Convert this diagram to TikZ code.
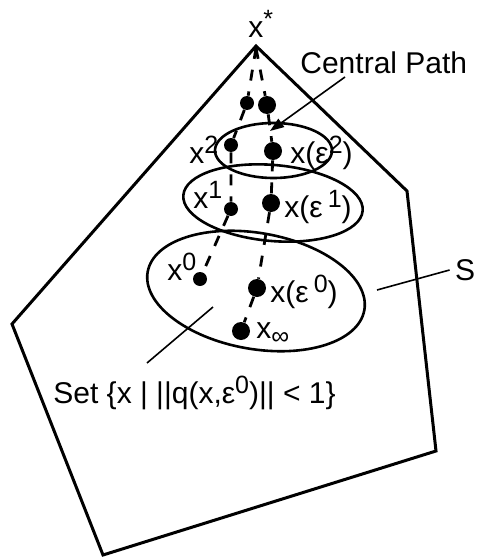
\documentclass[tikz,border=0pt]{standalone}
\usepackage{fontspec}
\setmainfont{Liberation Sans}
\usetikzlibrary{arrows.meta}
\newcommand\upidx[1]{\raisebox{0.33em}{\fontsize{12.5}{14}\selectfont #1}}
\newcommand\dnidx[1]{\raisebox{-0.22em}{\fontsize{12.5}{14}\selectfont #1}}
\begin{document}
\begin{tikzpicture}[x=0.5pt,y=-0.5pt,font=\fontsize{15}{18}\selectfont,
  itdot/.style={circle,fill=black,inner sep=0pt,minimum size=7pt},
  cpdot/.style={circle,fill=black,inner sep=0pt,minimum size=9pt},
  pathline/.style={dash pattern=on 5.5pt off 5.5pt,line width=1.4pt},
  ring/.style={line width=1.3pt},
  pointer/.style={line width=0.8pt},
  lbl/.style={anchor=base west,inner sep=0pt}]
\useasboundingbox (0,0) rectangle (477,557);
% feasible set S
\draw[line width=1.5pt] (256,46) -- (407,191) -- (436,451) -- (103,555) -- (12,324) -- cycle;
\coordinate (xs) at (256,48);
% level sets
\draw[ring] (273.5,150.5) ellipse [x radius=58.5, y radius=27.5];
\draw[ring, rotate around={-5:(273,203)}] (273,203) ellipse [x radius=90, y radius=38];
\draw[ring, rotate around={-10:(256,291)}] (256,291) ellipse [x radius=110, y radius=58];
% iterates and central path points
\node[itdot] (it3) at (247,103) {};
\node[itdot] (it2) at (231,145) {};
\node[itdot] (it1) at (231,209) {};
\node[itdot] (it0) at (200,279) {};
\node[cpdot] (cp3) at (267,105) {};
\node[cpdot] (cp2) at (273,151) {};
\node[cpdot] (cp1) at (271,203) {};
\node[cpdot] (cp0) at (257,288) {};
\node[cpdot] (cpinf) at (241,331) {};
\draw[pathline] (xs) -- (it3) -- (it2) -- (it1) -- (it0);
\draw[pathline] (xs) -- (cp3) -- (cp2) -- (cp1) -- (cp0) -- (cpinf);
% labels
\node[lbl] (lxs) at (248,37) {x\upidx{*}};
\node[lbl] (lit2) at (189,163) {x\upidx{2}};
\node[lbl] (lcp2) at (290,163) {x(ε\upidx{2})};
\node[lbl] (lit1) at (193,208) {x\upidx{1}};
\node[lbl] (lcp1) at (284,217) {x(ε\,\upidx{1})};
\node[lbl] (lit0) at (167,280) {x\upidx{0}};
\node[lbl] (lcp0) at (270,302) {x(ε\,\upidx{0})};
\node[lbl] (lcpinf) at (256,338) {x\dnidx{∞}};
\node[lbl] (lcpath) at (300,73) {Central Path};
\node[inner sep=2.5pt] (lS) at (465,270) {S};
\node[lbl] (lset) at (53,403) {Set \{x | ||q(x,ε\upidx{0})|| < 1\}};
% pointers
\coordinate (cptail) at (345,77);
\coordinate (cptip) at (270,131);
\draw[pointer, -{Triangle[length=7pt,width=5pt]}] (cptail) -- (cptip);
\coordinate (Send) at (377,290);
\draw[pointer] (lS.west) -- (Send);
\coordinate (settail) at (147,363);
\coordinate (sethead) at (213,307);
\draw[pointer] (settail) -- (sethead);
\end{tikzpicture}
\end{document}
